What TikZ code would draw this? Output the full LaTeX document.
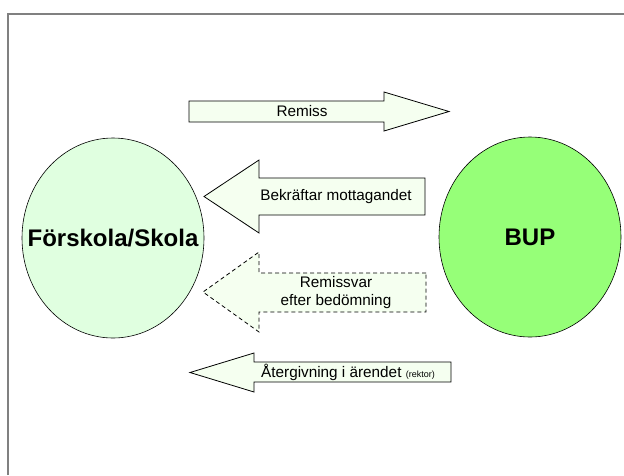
\documentclass[tikz,border=0pt]{standalone}
\usepackage{fontspec}
\setmainfont{Liberation Sans}
\usetikzlibrary{shapes.geometric}

\definecolor{ljusgron}{RGB}{224,255,224}
\definecolor{gron}{RGB}{150,255,120}
\definecolor{pilfarg}{RGB}{245,255,240}
\definecolor{ram}{RGB}{128,128,128}

\tikzset{
  rund/.style={ellipse, draw=black, line width=0.6pt, minimum width=182pt, minimum height=200pt, inner sep=0pt},
  rundtext/.style={font=\fontsize{24}{28}\selectfont\bfseries},
  pil/.style={draw=black, fill=pilfarg, line width=0.8pt, line join=miter},
  pilstreckad/.style={pil, dash pattern=on 4pt off 3pt},
  piltext/.style={inner sep=0pt, font=\fontsize{15.3}{18}\selectfont}
}

\begin{document}
\begin{tikzpicture}[x=1pt,y=-1pt]
            \useasboundingbox (0,0) rectangle (624,475);
            \draw[ram, line width=1.7pt] (8,475) -- (8,14) -- (624,14);

            \node[rund, fill=ljusgron] (forskola) at (113,238) {};
            \node[rundtext] at (forskola.center) {Förskola/Skola};
            \node[rund, fill=gron] (bup) at (530,237) {};
            \node[rundtext] at (bup.center) {BUP};

            \draw[pil] (189,101) -- (384,101) -- (384,92) -- (449,111.5) -- (384,131) -- (384,122) -- (189,122) -- cycle;
            \node[piltext] (remiss) at (302,111.5) {Remiss};

            \draw[pil] (425,178) -- (259,178) -- (259,160) -- (204,196.5) -- (259,233) -- (259,215) -- (425,215) -- cycle;
            \node[piltext] (bekraftar) at (336,197) {Bekräftar mottagandet};

            \draw[pilstreckad] (426,273) -- (259,273) -- (259,252) -- (203,292) -- (259,332) -- (259,312) -- (426,312) -- cycle;
            \node[piltext, align=center] (remissvar) at (336,293) {Remissvar\\efter bedömning};

            \draw[pil] (451,362) -- (254,362) -- (254,353) -- (190,372.5) -- (254,392) -- (254,382) -- (451,382) -- cycle;
            \node[piltext, anchor=west] (atergivning) at (261,372) {Återgivning i ärendet {\fontsize{9}{10}\selectfont(rektor)}};
        \end{tikzpicture}
\end{document}
